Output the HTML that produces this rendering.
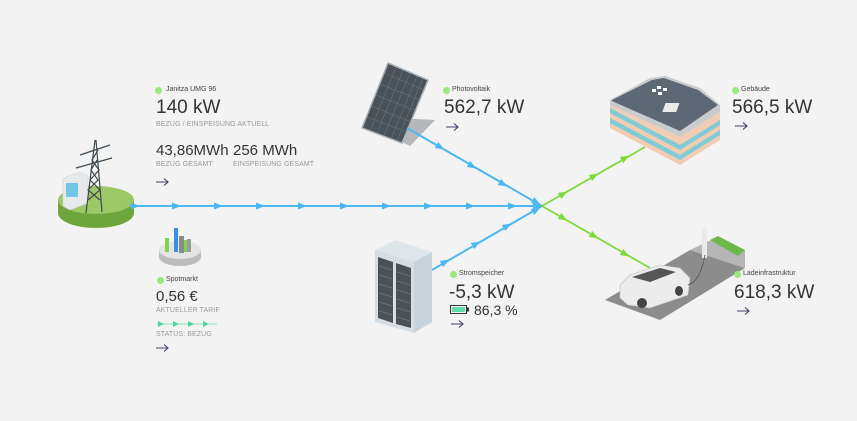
<!DOCTYPE html>
<html><head><meta charset="utf-8"><style>
html,body{margin:0;padding:0;}
body{width:857px;height:421px;background:#f3f3f3;position:relative;overflow:hidden;font-family:"Liberation Sans",sans-serif;color:#333;}
.t{position:absolute;white-space:nowrap;}
.lbl{font-size:7px;color:#444;}
.dot{position:absolute;width:7px;height:7px;border-radius:50%;background:#9be87f;}
.big{font-size:19px;color:#333;}
.mid{font-size:15px;color:#333;}
.sm{font-size:7px;color:#999;letter-spacing:0.1px;}
svg{position:absolute;left:0;top:0;}
</style></head><body>
<svg width="857" height="421" viewBox="0 0 857 421">
<defs>
<polygon id="ah" points="-4,-3.5 5,0 -4,3.5"/>
</defs>
<!-- tower base disc -->
<ellipse cx="96" cy="213" rx="38" ry="15" fill="#6fa53d"/>
<rect x="58" y="200" width="76" height="13" fill="#6fa53d"/>
<ellipse cx="96" cy="200" rx="38" ry="14" fill="#9cc965"/>
<!-- meter box -->
<polygon points="63,178 80,172 88,176 88,203 70,210 63,206" fill="#e6e8ea" stroke="#cfd3d6" stroke-width="0.5"/>
<rect x="66" y="183" width="12" height="14" fill="#6fc5e6"/>
<!-- tower -->
<g stroke="#3f4a4f" stroke-width="1.2" fill="none">
<line x1="86" y1="213" x2="95" y2="140"/><line x1="102" y1="212" x2="96" y2="140"/>
<line x1="80" y1="155" x2="110" y2="145"/><line x1="76" y1="168" x2="112" y2="158"/>
<path d="M88 200 L100 190 L90 180 L99 170 L92 160 L98 150"/>
<path d="M100 200 L88 190 L98 180 L91 170 L97 160"/>
</g>
<!-- spot pie -->
<ellipse cx="180" cy="257" rx="21" ry="9" fill="#bdbdbd"/>
<rect x="159" y="250" width="42" height="7" fill="#bdbdbd"/>
<ellipse cx="180" cy="250" rx="21" ry="9" fill="#e4e4e4"/>
<rect x="165" y="238" width="4" height="14" fill="#7bd64a"/>
<rect x="174" y="228" width="4" height="24" fill="#3b8fe0"/>
<rect x="179" y="236" width="5" height="17" fill="#8a8a8a"/>
<rect x="184" y="240" width="3" height="12" fill="#7bd64a"/>
<rect x="187" y="239" width="4" height="13" fill="#9a9a9a"/>
<!-- solar panel -->
<polygon points="398,118 435,120 410,146 398,140" fill="#b5b8ba"/>
<polygon points="388,63 428,80 402,143 362,128" fill="#4a5259" stroke="#a9b2b8" stroke-width="1.5"/>
<g stroke="#7b858c" stroke-width="0.4"><line x1="396" y1="67" x2="370" y2="131"/><line x1="403" y1="70" x2="377" y2="133"/><line x1="410" y1="73" x2="384" y2="136"/><line x1="417" y1="76" x2="391" y2="139"/><line x1="423" y1="78" x2="397" y2="141"/>
<line x1="384" y1="73" x2="424" y2="90"/><line x1="380" y1="84" x2="420" y2="100"/><line x1="376" y1="95" x2="416" y2="111"/><line x1="371" y1="106" x2="411" y2="122"/><line x1="367" y1="117" x2="407" y2="132"/></g>
<!-- battery cabinet -->
<polygon points="375,250 395,240 432,252 414,262" fill="#dfe6ea"/>
<polygon points="414,262 432,252 432,322 414,333" fill="#c7d3da"/>
<polygon points="375,250 414,262 414,333 375,322" fill="#d6dee3"/>
<polygon points="378,257 393,262 393,323 378,318" fill="#4a5257"/>
<polygon points="396,263 411,268 411,328 396,324" fill="#4a5257"/>
<g stroke="#7a858a" stroke-width="0.6"><line x1="379" y1="266" x2="392" y2="270"/><line x1="379" y1="275" x2="392" y2="279"/><line x1="379" y1="284" x2="392" y2="288"/><line x1="379" y1="293" x2="392" y2="297"/><line x1="379" y1="302" x2="392" y2="306"/><line x1="379" y1="311" x2="392" y2="315"/>
<line x1="397" y1="272" x2="410" y2="276"/><line x1="397" y1="281" x2="410" y2="285"/><line x1="397" y1="290" x2="410" y2="294"/><line x1="397" y1="299" x2="410" y2="303"/><line x1="397" y1="308" x2="410" y2="312"/><line x1="397" y1="317" x2="410" y2="321"/></g>
<!-- building -->
<polygon points="610,105 610,128 680,165 720,140 720,112 680,137" fill="#f2cdb2"/>
<polygon points="610,108 680,145 680,150 610,113" fill="#7fcbd8"/>
<polygon points="610,118 680,155 680,160 610,123" fill="#7fcbd8"/>
<polygon points="680,145 720,120 720,125 680,150" fill="#7fcbd8"/>
<polygon points="680,155 720,130 720,135 680,160" fill="#7fcbd8"/>
<polygon points="610,100 650,78 665,76 700,88 712,98 720,105 720,112 680,137 610,105" fill="#c9cbcd"/>
<polygon points="612,100 652,80 664,78 698,90 718,105 680,131 612,101" fill="#5d6874"/>
<rect x="668" y="103" width="14" height="9" fill="#eaeaea" transform="skewX(-20) translate(35 0)"/>
<g fill="#fff"><rect x="657" y="86" width="4" height="3"/><rect x="663" y="88" width="4" height="3"/><rect x="652" y="89" width="4" height="3"/><rect x="658" y="92" width="4" height="3"/></g>
<!-- parking -->
<polygon points="605,300 690,250 745,268 660,320" fill="#8c8c8c"/>
<polygon points="690,250 715,238 745,250 745,268" fill="#b5b5b5"/>
<polygon points="710,240 718,236 745,250 738,256" fill="#6db84a"/>
<rect x="702" y="228" width="5" height="30" fill="#eaeaea"/>
<!-- car -->
<path d="M620,285 L630,275 L660,265 L680,268 L690,278 L688,295 L650,308 L628,305 L620,298 Z" fill="#ececec" stroke="#bdbdbd" stroke-width="0.6"/>
<path d="M632,277 L660,268 L676,272 L650,282 Z" fill="#555"/>
<ellipse cx="642" cy="303" rx="5" ry="5" fill="#444"/><ellipse cx="679" cy="291" rx="4" ry="5" fill="#444"/>
<path d="M688,285 Q700,282 705,255" stroke="#555" stroke-width="0.8" fill="none"/>
<!-- lines -->
<g stroke="#4db8f0" stroke-width="2" fill="none">
<line x1="130" y1="206" x2="542" y2="206"/>
<line x1="407" y1="128" x2="542" y2="206"/>
<line x1="432" y1="270" x2="542" y2="206"/>
</g>
<g stroke="#7ed93a" stroke-width="1.8" fill="none">
<line x1="542" y1="206" x2="645" y2="147"/>
<line x1="542" y1="206" x2="650" y2="268"/>
</g>
<g fill="#4db8f0">
<use href="#ah" x="135" y="206"/><use href="#ah" x="176" y="206"/><use href="#ah" x="218" y="206"/><use href="#ah" x="260" y="206"/><use href="#ah" x="302" y="206"/><use href="#ah" x="344" y="206"/><use href="#ah" x="386" y="206"/><use href="#ah" x="428" y="206"/><use href="#ah" x="470" y="206"/><use href="#ah" x="512" y="206"/><use href="#ah" x="537" y="206"/>
<g transform="translate(440,147) rotate(30)"><use href="#ah"/></g>
<g transform="translate(472,166) rotate(30)"><use href="#ah"/></g>
<g transform="translate(503,184) rotate(30)"><use href="#ah"/></g>
<g transform="translate(536,202) rotate(30)"><use href="#ah"/></g>
<g transform="translate(445,262) rotate(-30)"><use href="#ah"/></g>
<g transform="translate(476,244) rotate(-30)"><use href="#ah"/></g>
<g transform="translate(507,226) rotate(-30)"><use href="#ah"/></g>
<g transform="translate(536,210) rotate(-30)"><use href="#ah"/></g>
</g>
<g fill="#7ed93a">
<g transform="translate(563,194) rotate(-30)"><use href="#ah"/></g>
<g transform="translate(594,176) rotate(-30)"><use href="#ah"/></g>
<g transform="translate(625,158) rotate(-30)"><use href="#ah"/></g>
<g transform="translate(563,218) rotate(30)"><use href="#ah"/></g>
<g transform="translate(594,236) rotate(30)"><use href="#ah"/></g>
<g transform="translate(625,254) rotate(30)"><use href="#ah"/></g>
</g>
<!-- spot dashes -->
<line x1="157" y1="324" x2="217" y2="324" stroke="#9ee8c6" stroke-width="1.2"/>
<g fill="#4fd6a0"><polygon points="158,321 164,324 158,327"/><polygon points="173,321 179,324 173,327"/><polygon points="188,321 194,324 188,327"/><polygon points="203,321 209,324 203,327"/></g>
<!-- battery icon -->
<rect x="450.5" y="305.5" width="16" height="8" fill="none" stroke="#333" stroke-width="1"/>
<rect x="452" y="307" width="13" height="5" fill="#5fdcaa"/>
<rect x="467" y="307.5" width="2" height="4" fill="#333"/>
<!-- nav arrows -->
<g stroke="#4a3f6b" stroke-width="1.1" fill="none">
<path d="M156 182 H168 M164 178.5 L168 182 L164 185.5"/>
<path d="M156 348 H168 M164 344.5 L168 348 L164 351.5"/>
<path d="M446 127 H458 M454 123.5 L458 127 L454 130.5"/>
<path d="M451 324 H463 M459 320.5 L463 324 L459 327.5"/>
<path d="M735 126 H747 M743 122.5 L747 126 L743 129.5"/>
<path d="M737 311 H749 M745 307.5 L749 311 L745 314.5"/>
</g>
</svg>

<div class="dot" style="left:155px;top:87px"></div><div class="t lbl" style="left:166px;top:86px">Janitza UMG 96</div>
<div class="t big" style="left:156px;top:97px">140 kW</div>
<div class="t sm" style="left:156px;top:121px">BEZUG / EINSPEISUNG AKTUELL</div>
<div class="t mid" style="left:156px;top:142px">43,86MWh</div>
<div class="t mid" style="left:233px;top:142px">256 MWh</div>
<div class="t sm" style="left:156px;top:161px">BEZUG GESAMT</div>
<div class="t sm" style="left:233px;top:161px">EINSPEISUNG GESAMT</div>

<div class="dot" style="left:157px;top:277px"></div><div class="t lbl" style="left:166px;top:276px">Spotmarkt</div>
<div class="t mid" style="left:156px;top:288px">0,56 €</div>
<div class="t sm" style="left:156px;top:307px">AKTUELLER TARIF</div>
<div class="t sm" style="left:156px;top:331px">STATUS: BEZUG</div>

<div class="dot" style="left:443px;top:87px"></div><div class="t lbl" style="left:452px;top:86px">Photovoltaik</div>
<div class="t big" style="left:444px;top:97px">562,7 kW</div>

<div class="dot" style="left:450px;top:271px"></div><div class="t lbl" style="left:459px;top:270px">Stromspeicher</div>
<div class="t big" style="left:449px;top:282px">-5,3 kW</div>
<div class="t" style="left:474px;top:302px;font-size:14px;color:#333">86,3 %</div>

<div class="dot" style="left:732px;top:87px"></div><div class="t lbl" style="left:741px;top:86px">Gebäude</div>
<div class="t big" style="left:732px;top:97px">566,5 kW</div>

<div class="dot" style="left:734px;top:271px"></div><div class="t lbl" style="left:743px;top:270px">Ladeinfrastruktur</div>
<div class="t big" style="left:734px;top:282px">618,3 kW</div>
</body></html>
